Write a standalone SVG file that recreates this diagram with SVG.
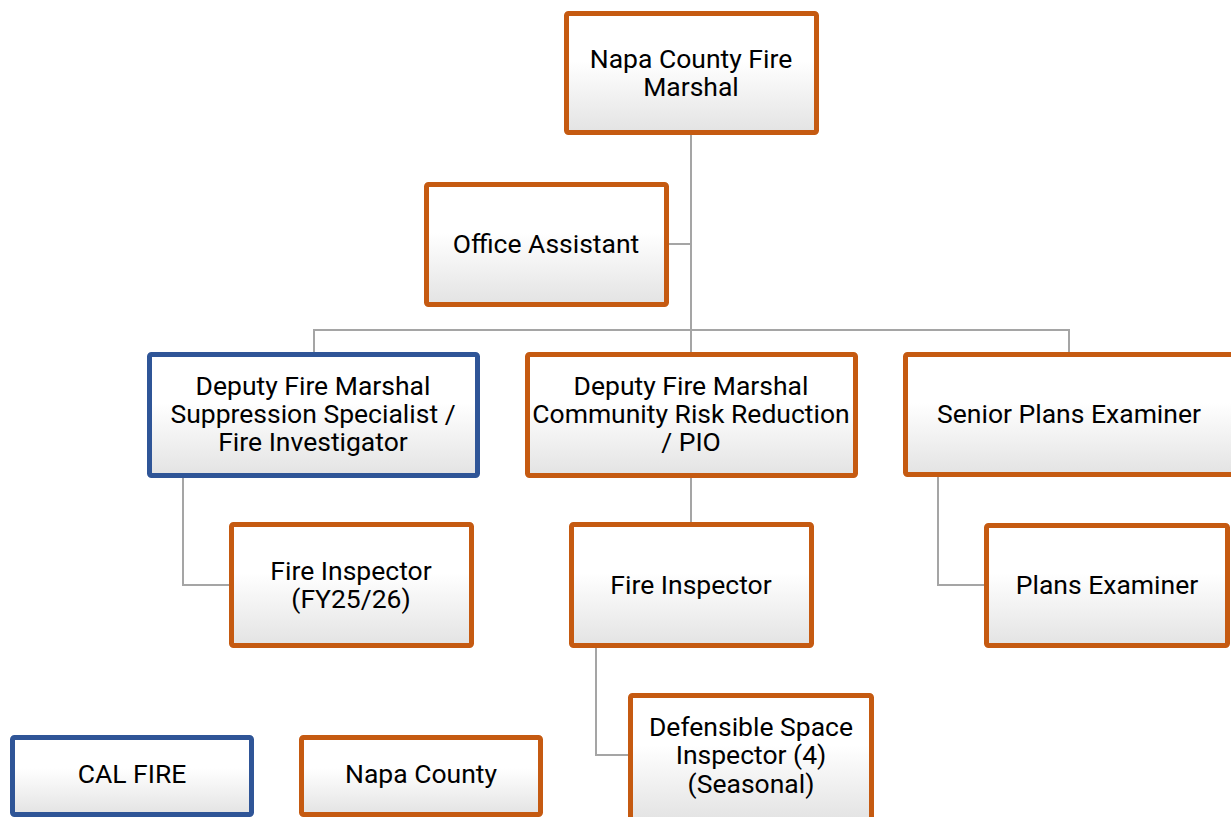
<svg xmlns="http://www.w3.org/2000/svg" width="1231" height="817" viewBox="0 0 1231 817">
<defs>
<linearGradient id="g" x1="0" y1="0" x2="0" y2="1">
<stop offset="0" stop-color="#ffffff"/>
<stop offset="0.4" stop-color="#ffffff"/>
<stop offset="1" stop-color="#e3e3e3"/>
</linearGradient>
</defs>
<style>
.box{fill:url(#g);stroke-width:5;}
.o{stroke:#C55A11;}
.b{stroke:#2F5597;}
.t{font-family:Roboto,"Liberation Sans",sans-serif;font-size:26.5px;fill:#000;text-anchor:middle;}
.c{fill:none;stroke:#A5A5A5;stroke-width:2;}
</style>
<rect width="1231" height="817" fill="#ffffff"/>
<g id="connectors">
<path class="c" d="M691 134 V330"/>
<path class="c" d="M668 244 H691"/>
<path class="c" d="M314 352 V330 H1069 V352"/>
<path class="c" d="M691 330 V352"/>
<path class="c" d="M183 478 V585 H229"/>
<path class="c" d="M691 478 V522"/>
<path class="c" d="M596 648 V755 H628"/>
<path class="c" d="M938 477 V585 H984"/>
</g>
<g id="fire-marshal">
<rect class="box o" x="566.5" y="13.5" width="250" height="119" rx="2"/>
<text class="t" x="691" y="68">Napa County Fire</text>
<text class="t" x="691" y="96">Marshal</text>
</g>
<g id="office-assistant">
<rect class="box o" x="426.5" y="184.5" width="240" height="120" rx="2"/>
<text class="t" x="546" y="253">Office Assistant</text>
</g>
<g id="deputy-suppression">
<rect class="box b" x="149.5" y="354.5" width="328" height="121" rx="2"/>
<text class="t" x="313" y="395">Deputy Fire Marshal</text>
<text class="t" x="313" y="423">Suppression Specialist /</text>
<text class="t" x="313" y="451">Fire Investigator</text>
</g>
<g id="deputy-crr">
<rect class="box o" x="527.5" y="354.5" width="328" height="121" rx="2"/>
<text class="t" x="691" y="395">Deputy Fire Marshal</text>
<text class="t" x="691" y="423">Community Risk Reduction</text>
<text class="t" x="691" y="451">/ PIO</text>
</g>
<g id="senior-plans-examiner">
<rect class="box o" x="905.5" y="354.5" width="332" height="120" rx="2"/>
<text class="t" x="1069" y="423">Senior Plans Examiner</text>
</g>
<g id="fire-inspector-fy">
<rect class="box o" x="231.5" y="524.5" width="240" height="121" rx="2"/>
<text class="t" x="351" y="580">Fire Inspector</text>
<text class="t" x="351" y="608">(FY25/26)</text>
</g>
<g id="fire-inspector">
<rect class="box o" x="571.5" y="524.5" width="240" height="121" rx="2"/>
<text class="t" x="691" y="594">Fire Inspector</text>
</g>
<g id="plans-examiner">
<rect class="box o" x="986.5" y="525.5" width="241" height="120" rx="2"/>
<text class="t" x="1107" y="594">Plans Examiner</text>
</g>
<g id="defensible-space">
<rect class="box o" x="630.5" y="695.5" width="241" height="125" rx="2"/>
<text class="t" x="751" y="736">Defensible Space</text>
<text class="t" x="751" y="764">Inspector (4)</text>
<text class="t" x="751" y="793">(Seasonal)</text>
</g>
<g id="legend-calfire">
<rect class="box b" x="12.5" y="737.5" width="239" height="77" rx="2"/>
<text class="t" x="132" y="783">CAL FIRE</text>
</g>
<g id="legend-napa">
<rect class="box o" x="301.5" y="737.5" width="239" height="77" rx="2"/>
<text class="t" x="421" y="783">Napa County</text>
</g>
</svg>
